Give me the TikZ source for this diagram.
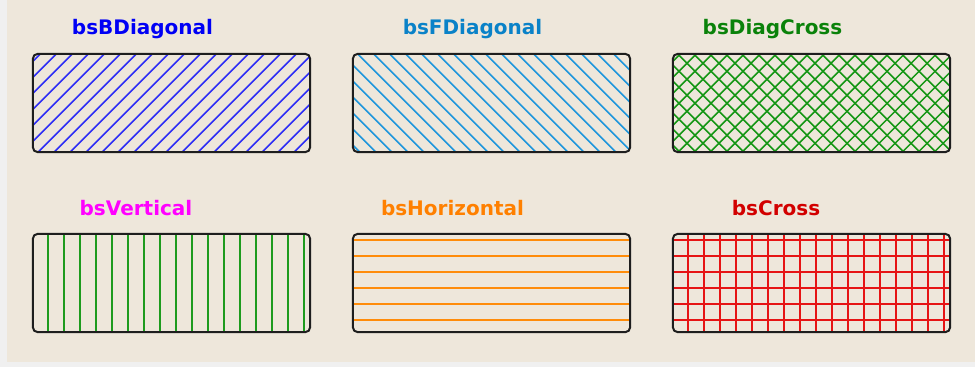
\documentclass[tikz,border=0pt]{standalone}
\usepackage{fontspec}
\newfontfamily\labelfont{DejaVu Sans}

\definecolor{outergray}{RGB}{240,240,240}
\definecolor{panelbeige}{RGB}{238,231,219}
\definecolor{edgeblack}{RGB}{30,30,30}
\definecolor{txtblue}{RGB}{0,0,245}
\definecolor{lineblue}{RGB}{45,45,245}
\definecolor{txtsky}{RGB}{10,130,200}
\definecolor{linesky}{RGB}{30,150,220}
\definecolor{txtgreen}{RGB}{10,130,10}
\definecolor{linegreen}{RGB}{20,150,20}
\definecolor{txtmagenta}{RGB}{255,0,255}
\definecolor{vgreen}{RGB}{30,155,30}
\definecolor{txtorange}{RGB}{255,128,0}
\definecolor{lineorange}{RGB}{255,140,10}
\definecolor{txtred}{RGB}{210,0,0}
\definecolor{linered}{RGB}{230,20,20}

% hatch families, drawn from the box's top-left corner (box is 277 x 98)
\newcommand{\hatchback}[1]{\foreach \s in {7.7,23.7,...,380}{\draw[line width=1.5pt,#1] (\s,0) -- ++(-100,100);}}
\newcommand{\hatchfwd}[1]{\foreach \s in {-107.2,-91.2,...,280}{\draw[line width=1.5pt,#1] (\s,0) -- ++(100,100);}}
\newcommand{\hatchvert}[1]{\foreach \s in {15,31,...,277}{\draw[line width=2.3pt,#1] (\s,-2) -- (\s,100);}}
\newcommand{\hatchhorz}[1]{\foreach \s in {6,22,...,98}{\draw[line width=2.3pt,#1] (-2,\s) -- (280,\s);}}

% fill box #1 with the hatch code #2, then stroke its rounded border
\newcommand{\hatchin}[2]{%
  \begin{scope}
    \clip[rounded corners=5pt] (#1.north west) rectangle (#1.south east);
    \begin{scope}[shift={(#1.north west)}]#2\end{scope}
  \end{scope}
  \draw[boxedge] (#1.north west) rectangle (#1.south east);}

\begin{document}
\begin{tikzpicture}[x=1pt,y=-1pt,
  hatchbox/.style={minimum width=277pt, minimum height=98pt, inner sep=0pt},
  boxedge/.style={draw=edgeblack, line width=2pt, rounded corners=5pt},
  caption/.style={font=\labelfont\bfseries\fontsize{20}{24}\selectfont,
    anchor=base, inner sep=0pt},
]
% window and panel
\fill[outergray] (0,0) rectangle (975,367);
\fill[panelbeige] (7,0) rectangle (975,362);

% captions
\node[caption, text=txtblue]    (l1) at (142.5,34)  {bsBDiagonal};
\node[caption, text=txtsky]     (l2) at (472.5,34)  {bsFDiagonal};
\node[caption, text=txtgreen]   (l3) at (772.5,34)  {bsDiagCross};
\node[caption, text=txtmagenta] (l4) at (136,215)   {bsVertical};
\node[caption, text=txtorange]  (l5) at (452.5,215) {bsHorizontal};
\node[caption, text=txtred]     (l6) at (776,215)   {bsCross};

% box frames
\node[hatchbox] (b1) at (171.5,103) {};
\node[hatchbox] (b2) at (491.5,103) {};
\node[hatchbox] (b3) at (811.5,103) {};
\node[hatchbox] (b4) at (171.5,283) {};
\node[hatchbox] (b5) at (491.5,283) {};
\node[hatchbox] (b6) at (811.5,283) {};

% hatch patterns
\hatchin{b1}{\hatchback{lineblue}}
\hatchin{b2}{\hatchfwd{linesky}}
\hatchin{b3}{\hatchback{linegreen}\hatchfwd{linegreen}}
\hatchin{b4}{\hatchvert{vgreen}}
\hatchin{b5}{\hatchhorz{lineorange}}
\hatchin{b6}{\hatchvert{linered}\hatchhorz{linered}}
\end{tikzpicture}
\end{document}
